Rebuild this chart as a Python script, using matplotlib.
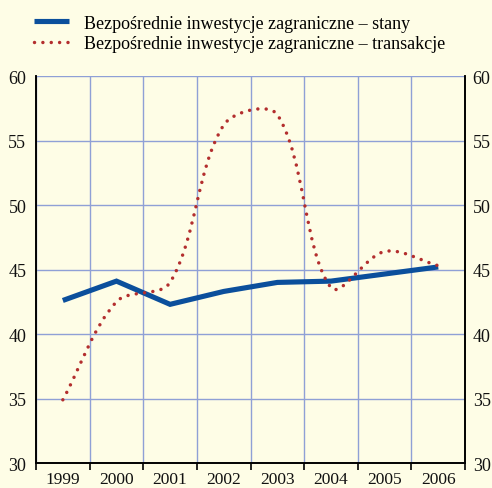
import numpy as np
import matplotlib
matplotlib.use("Agg")
import matplotlib.pyplot as plt
from matplotlib.path import Path
from matplotlib.patches import PathPatch
from matplotlib.lines import Line2D

plt.rcParams["font.family"] = ["Liberation Serif", "DejaVu Serif"]

# ── dane ─────────────────────────────────────────────────────────────────────
years = ["1999", "2000", "2001", "2002", "2003", "2004", "2005", "2006"]
stany = [42.6, 44.1, 42.3, 43.3, 44.0, 44.1, 44.65, 45.2]
transakcje = [34.9, 42.5, 44.0, 56.2, 57.0, 43.6, 46.4, 45.3]

label_stany = "Bezpośrednie inwestycje zagraniczne – stany"
label_trans = "Bezpośrednie inwestycje zagraniczne – transakcje"

BG = "#fefde6"
BLUE = "#0b4f9c"
RED = "#b32e2e"
GRID = "#8fa0d6"

FIG_W, FIG_H = 4.92, 4.89
AX_RECT = [0.0732, 0.0511, 0.8720, 0.7914]
YMIN, YMAX = 30, 60


def smooth_path(xs, ys, sx, sy):
    """Wygładzona linia w stylu Excela: krzywe Beziera, punkty kontrolne
    skalowane długością cięciw (liczonych w pikselach)."""
    pts = np.column_stack([xs, ys]).astype(float)
    scale = np.array([sx, sy])
    ext = np.vstack([pts[0], pts, pts[-1]])

    def dist(a, b):
        return np.hypot(*((b - a) * scale))

    verts = [pts[0]]
    codes = [Path.MOVETO]
    for i in range(len(pts) - 1):
        p0, p1, p2, p3 = ext[i], ext[i + 1], ext[i + 2], ext[i + 3]
        d01, d12, d23 = dist(p0, p1), dist(p1, p2), dist(p2, p3)
        f1 = d12 / (d01 + d12) / 3 if d01 > 0 else 1 / 3
        f2 = d12 / (d12 + d23) / 3 if d23 > 0 else 1 / 3
        verts += [p1 + (p2 - p0) * f1, p2 - (p3 - p1) * f2, p2]
        codes += [Path.CURVE4] * 3
    return Path(verts, codes)


fig = plt.figure(figsize=(FIG_W, FIG_H), dpi=100, facecolor=BG)
ax = fig.add_axes(AX_RECT, facecolor=BG)

x = np.arange(len(years))

ax.plot(x, stany, color=BLUE, linewidth=3.7, solid_capstyle="butt",
        solid_joinstyle="miter", zorder=3)

px_x = FIG_W * 100 * AX_RECT[2] / len(years)
px_y = FIG_H * 100 * AX_RECT[3] / (YMAX - YMIN)
patch = PathPatch(smooth_path(x, transakcje, px_x, px_y), fill=False,
                  edgecolor=RED, linewidth=2.5, linestyle=(0, (0.01, 2.4)),
                  capstyle="round", zorder=4)
ax.add_patch(patch)

ax.set_xlim(-0.5, len(years) - 0.5)
ax.set_ylim(YMIN, YMAX)
ax.set_yticks(np.arange(YMIN, YMAX + 1, 5))
ax.set_xticks(x)
ax.set_xticklabels(years)
ax.set_xticks(np.arange(-0.5, len(years), 1), minor=True)

ax.grid(True, which="major", axis="y", color=GRID, linewidth=1.0, zorder=1)
ax.grid(True, which="minor", axis="x", color=GRID, linewidth=1.0, zorder=1)
ax.set_axisbelow(True)

ax.tick_params(axis="y", length=0, labelsize=13, pad=7, colors="#111111")
ax.tick_params(axis="x", which="major", length=0, labelsize=12.5, pad=6,
               colors="#111111")
ax.tick_params(axis="x", which="minor", length=5, width=1.2,
               direction="out", color="black")

# prawa oś z tymi samymi wartościami
ax2 = ax.twinx()
ax2.set_ylim(YMIN, YMAX)
ax2.set_yticks(np.arange(YMIN, YMAX + 1, 5))
ax2.tick_params(axis="y", length=0, labelsize=13, pad=5.5, colors="#111111")

for a in (ax, ax2):
    for side in ["left", "right", "bottom"]:
        a.spines[side].set_color("black")
        a.spines[side].set_linewidth(1.2)
    a.spines["top"].set_visible(False)

handles = [
    Line2D([0], [0], color=BLUE, linewidth=3.7, solid_capstyle="butt"),
    Line2D([0], [0], color=RED, linewidth=2.5, linestyle=(0, (0.01, 2.4)),
           dash_capstyle="round"),
]
fig.legend(handles, [label_stany, label_trans], loc="upper left",
           bbox_to_anchor=(0.047, 0.99), frameon=False, fontsize=13,
           handlelength=1.95, handletextpad=0.8, labelspacing=0.2,
           borderaxespad=0.2)

fig.savefig("out.png", dpi=100, facecolor=BG)
